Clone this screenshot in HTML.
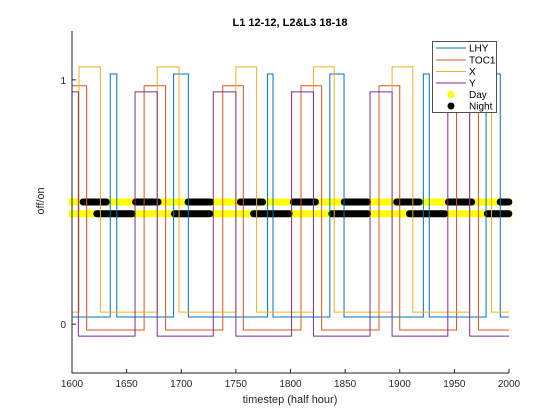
<!DOCTYPE html>
<html><head><meta charset="utf-8"><style>
body{margin:0;background:#fff;}
svg{display:block;font-family:"Liberation Sans",sans-serif;}
</style></head><body>
<svg id="chart" width="560" height="420">
<rect width="560" height="420" fill="#fff"/>
<g id="plot"></g>
<g id="axes"></g>
<text x="290" y="403" font-size="11" text-anchor="middle" fill="#262626">timestep (half hour)</text>
<text transform="translate(44,201) rotate(-90)" font-size="11" text-anchor="middle" fill="#262626">off/on</text>
<text x="290" y="26" font-size="11" font-weight="bold" text-anchor="middle" fill="#000">L1 12-12, L2&amp;L3 18-18</text>
<g font-size="10" fill="#000">
<rect x="432.5" y="41.5" width="64" height="71" fill="#fff" stroke="#262626" stroke-width="0.8"/>
<line x1="436" x2="466" y1="48" y2="48" stroke="#0072bd"/><text x="469" y="51.5">LHY</text>
<line x1="436" x2="466" y1="60" y2="60" stroke="#d95319"/><text x="469" y="63.5">TOC1</text>
<line x1="436" x2="466" y1="71.5" y2="71.5" stroke="#edb120"/><text x="469" y="75">X</text>
<line x1="436" x2="466" y1="83" y2="83" stroke="#7e2f8e"/><text x="469" y="86.5">Y</text>
<circle cx="451" cy="94.5" r="3.5" fill="#ffff00"/><text x="469" y="98">Day</text>
<circle cx="451" cy="106" r="3.5" fill="#000"/><text x="469" y="109.5">Night</text>
</g>
</svg>
<script>
const xTicks=[1600,1650,1700,1750,1800,1850,1900,1950,2000];
const yTicks=[0,1];
const lhyLevels=[0.029,1.024];
const lhyEdges=[1635,1641,1693,1706.5,1779,1784,1836,1849,1921.6,1927,1979,1992];
const lhyStart=0;
const toc1Levels=[-0.024,0.976];
const toc1Edges=[1613.4,1666,1685.7,1738,1756.8,1809.6,1828.5,1881,1900,1952,1972];
const toc1Start=1;
const xLevels=[0.049,1.053];
const xEdges=[1606.4,1626,1678,1698,1750,1769,1821,1840,1893,1912,1964,1984];
const xStart=0;
const yLevels=[-0.049,0.951];
const yEdges=[1605.8,1657.7,1678,1729.3,1750,1801,1821,1872.8,1893,1944,1964];
const yStart=1;
const row1Night=[[1607,1634.5],[1655,1682],[1703,1730],[1751,1777.6],[1799.5,1826],[1846,1873.7],[1894,1921],[1941.4,1969],[1988.7,2003]];
const row2Night=[[1619.5,1658.3],[1690.6,1729.3],[1763,1802],[1834.6,1873.7],[1905.7,1944.4],[1977,2003]];
const rowLevels=[0.5,0.452];

const X0=72,X1=509,Y0=373,Y1=31;
const sx=t=>X0+(t-1600)/400*(X1-X0);
const sy=v=>Y0-(v+0.2)/1.4*(Y0-Y1);
const NS="http://www.w3.org/2000/svg";
const plot=document.getElementById('plot'),axes=document.getElementById('axes');
function mk(tag,attrs,parent){const e=document.createElementNS(NS,tag);for(const k in attrs)e.setAttribute(k,attrs[k]);parent.appendChild(e);return e;}

[[row1Night,rowLevels[0]],[row2Night,rowLevels[1]]].forEach(([nights,lv],ri)=>{
  const yb=mk('line',{x1:sx(1597),x2:sx(2003),y1:sy(lv),y2:sy(lv),stroke:'#ffff00','stroke-width':7},plot);
  
  
  nights.forEach(n=>{
    const b=mk('line',{x1:sx(n[0])+3.5,x2:Math.min(sx(n[1])-3.5,sx(2000)+3),y1:sy(lv),y2:sy(lv),stroke:'#000','stroke-width':7,'stroke-linecap':'round'},plot);
    
    
  });
});

function stepPath(levels,edges,start){
  let s=start,d='M'+sx(1600)+','+sy(levels[s]);
  edges.forEach(t=>{d+='L'+sx(t)+','+sy(levels[s]);s=1-s;d+='L'+sx(t)+','+sy(levels[s]);});
  d+='L'+sx(2000)+','+sy(levels[s]);return d;
}
const series=[['lhy-line',lhyLevels,lhyEdges,lhyStart,'#0072bd'],['toc1-line',toc1Levels,toc1Edges,toc1Start,'#d95319'],['x-line',xLevels,xEdges,xStart,'#edb120'],['y-line',yLevels,yEdges,yStart,'#7e2f8e']];
series.forEach(s=>{
  const p=mk('path',{d:stepPath(s[1],s[2],s[3]),fill:'none',stroke:s[4],'stroke-width':1},plot);
  
  
});

mk('line',{x1:X0,x2:X0,y1:Y1,y2:Y0+0.5,stroke:'#262626'},axes);
mk('line',{x1:X0,x2:X1,y1:Y0,y2:Y0,stroke:'#262626'},axes);
xTicks.forEach(t=>{
  mk('line',{x1:sx(t),x2:sx(t),y1:Y0,y2:Y0-4,stroke:'#262626'},axes);
  const tx=mk('text',{x:sx(t),y:Y0+14,'font-size':10,'text-anchor':'middle',fill:'#262626'},axes);
  tx.textContent=t;
  
  
});
yTicks.forEach(v=>{
  mk('line',{x1:X0,x2:X0+4,y1:sy(v),y2:sy(v),stroke:'#262626'},axes);
  const tx=mk('text',{x:X0-6,y:sy(v)+4,'font-size':10,'text-anchor':'end',fill:'#262626'},axes);
  tx.textContent=v;
  
  
});
</script>
</body></html>
